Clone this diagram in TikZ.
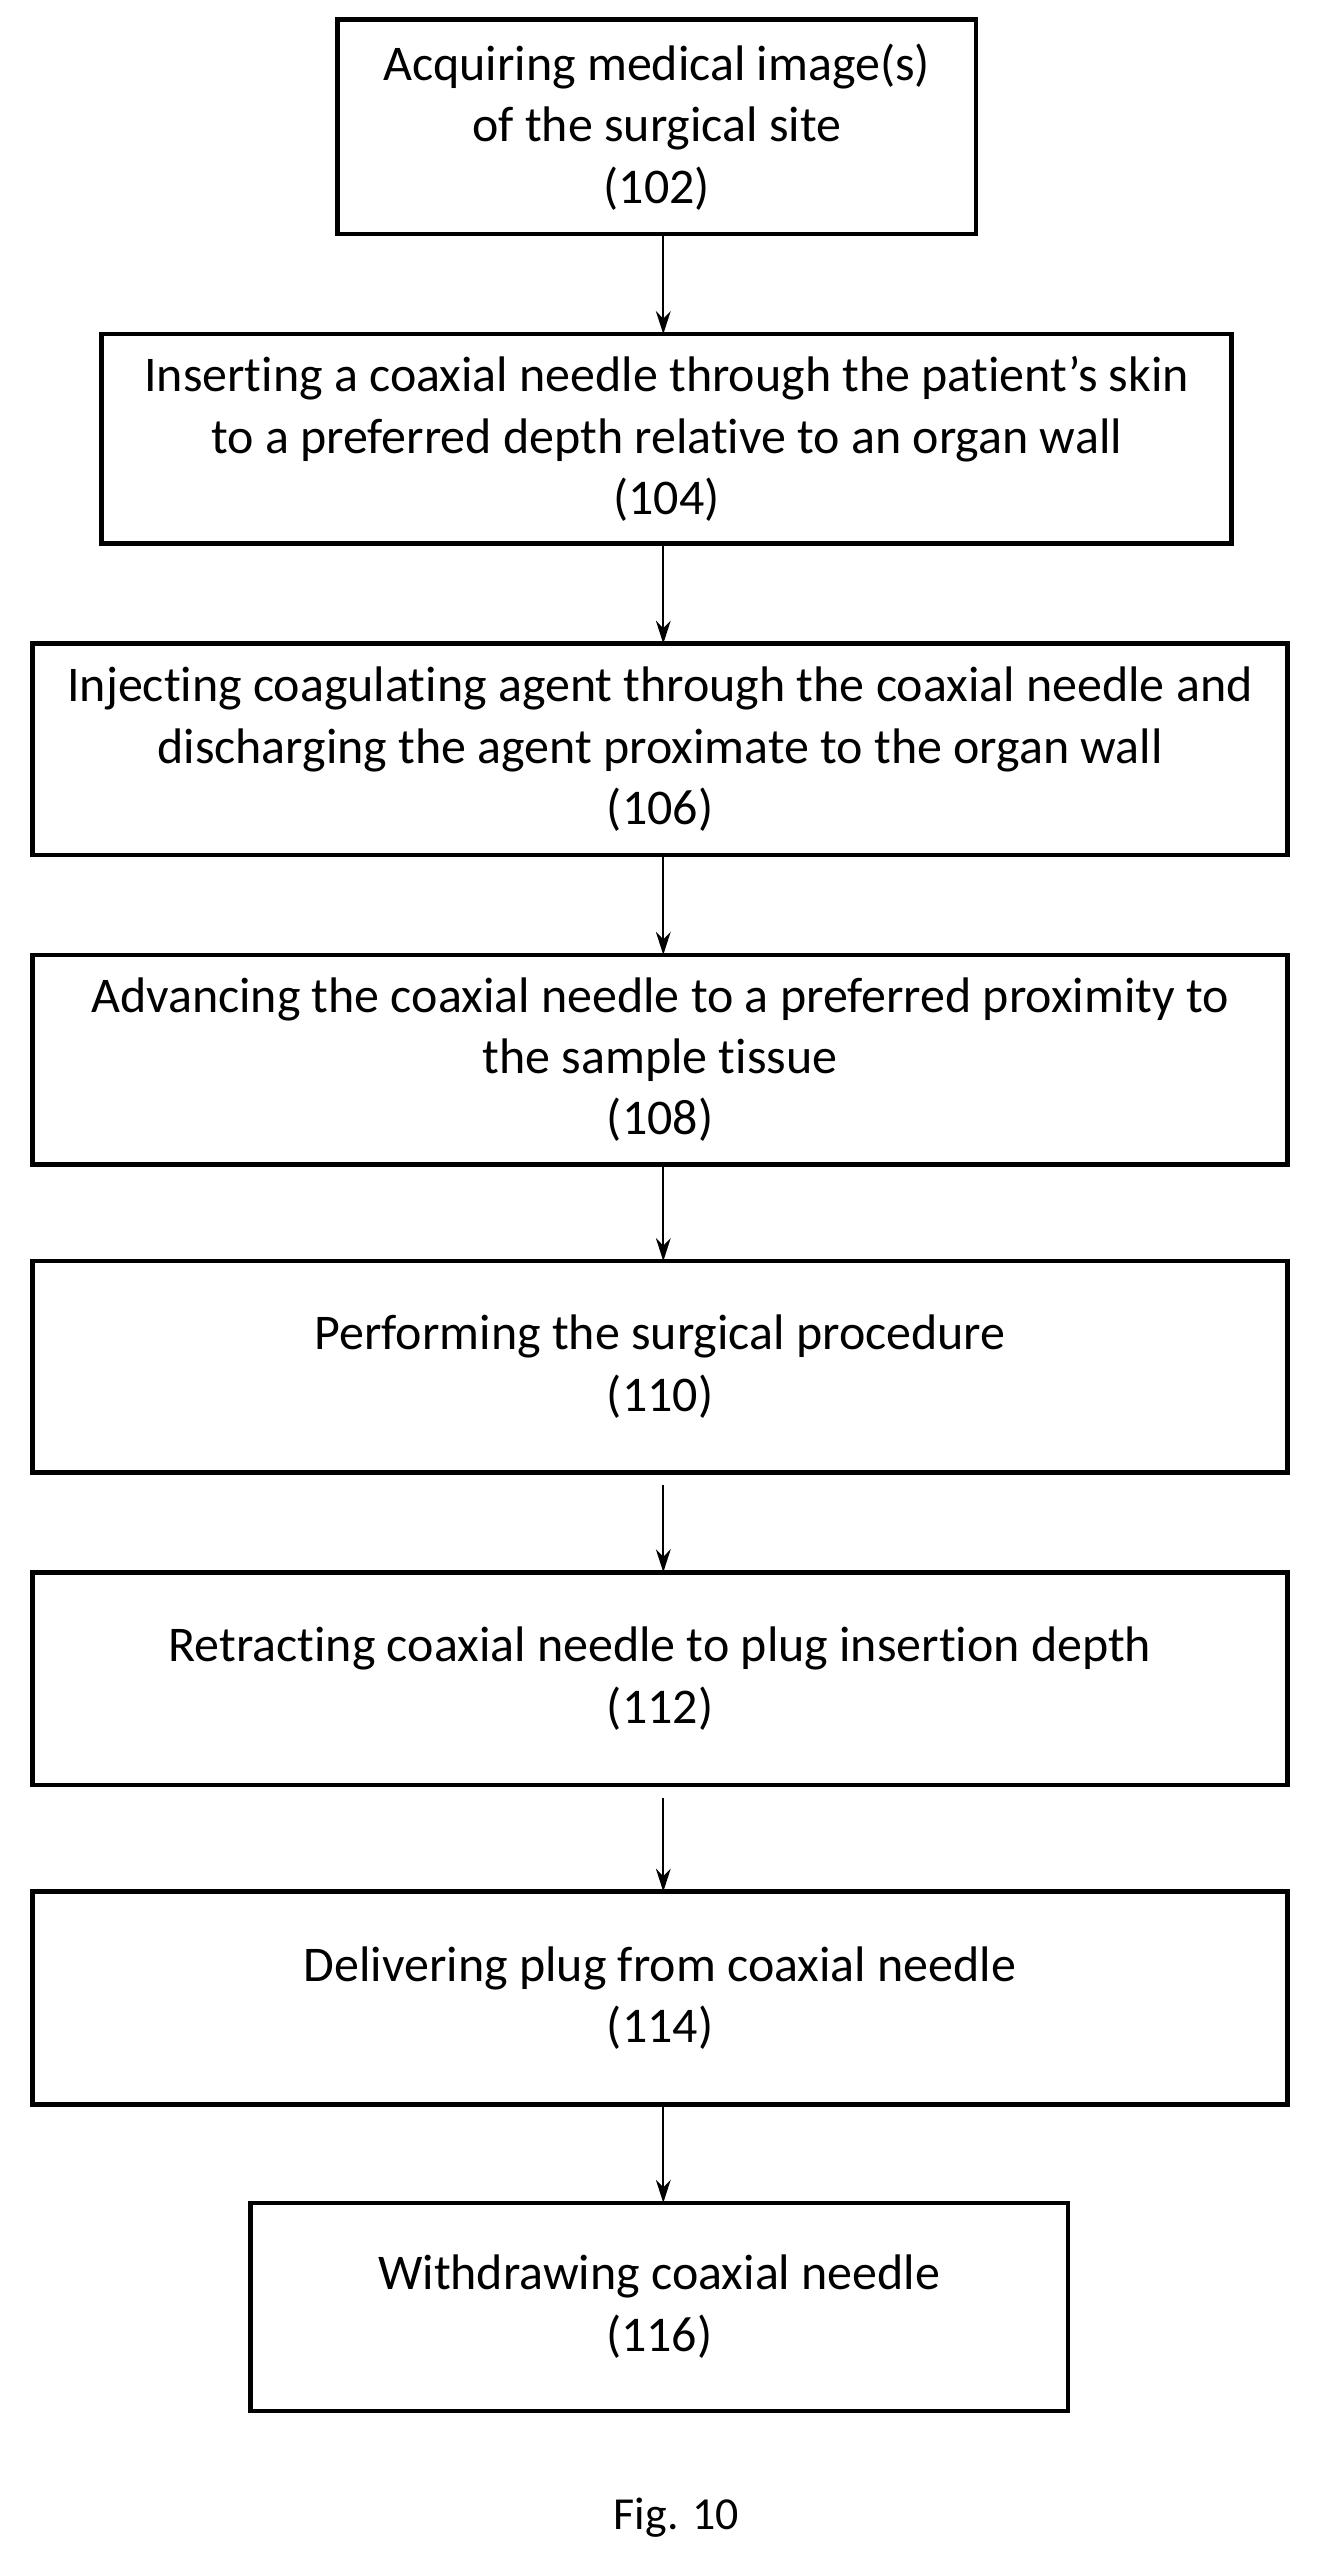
\documentclass[tikz,border=0pt]{standalone}
\usepackage{fontspec}
\setmainfont{Carlito}[RawFeature={-liga;-clig;-dlig;-calt}]
\usetikzlibrary{arrows.meta}
\begin{document}
\begin{tikzpicture}[x=1pt,y=-1pt,
  arr/.style={-{Stealth[length=14pt,width=9pt]},line width=1.3pt}]
\useasboundingbox (0,0) rectangle (806,1568);
\newcommand\bx[6]{\draw[line width=2.8pt] (#2,#3) rectangle (#4,#5);
  \node[align=center,font=\fontsize{30.5}{37.5}\selectfont] (#1) at ({(#2+#4)/2},{(#3+#5)/2}) {#6};
  \coordinate (#1t) at (405,#3); \coordinate (#1b) at (405,#5);}
\bx{a}{206}{12}{596}{143}{Acquiring medical image(s)\\of the surgical site\\(102)}
\bx{b}{62}{204}{752}{332}{Inserting a coaxial needle through the patient’s skin\\to a preferred depth relative to an organ wall\\(104)}
\bx{c}{20}{393}{786}{522}{Injecting coagulating agent through the coaxial needle and\\discharging the agent proximate to the organ wall\\(106)}
\bx{d}{20}{583}{786}{711}{Advancing the coaxial needle to a preferred proximity to\\the sample tissue\\(108)}
\bx{e}{20}{770}{786}{899}{Performing the surgical procedure\\(110)}
\bx{f}{20}{960}{786}{1090}{Retracting coaxial needle to plug insertion depth\\(112)}
\bx{g}{20}{1155}{786}{1285}{Delivering plug from coaxial needle\\(114)}
\bx{h}{153}{1345}{652}{1472}{Withdrawing coaxial needle\\(116)}
\draw[arr] (ab) -- (bt);
\draw[arr] (bb) -- (ct);
\draw[arr] (cb) -- (dt);
\draw[arr] (db) -- (et);
\draw[arr] (eb)++(0,8) -- (ft);
\draw[arr] (fb)++(0,8) -- (gt);
\draw[arr] (gb) -- (ht);
\node[font=\fontsize{28}{32}\selectfont] (fig) at (413,1537) {Fig. 10};
\end{tikzpicture}
\end{document}
